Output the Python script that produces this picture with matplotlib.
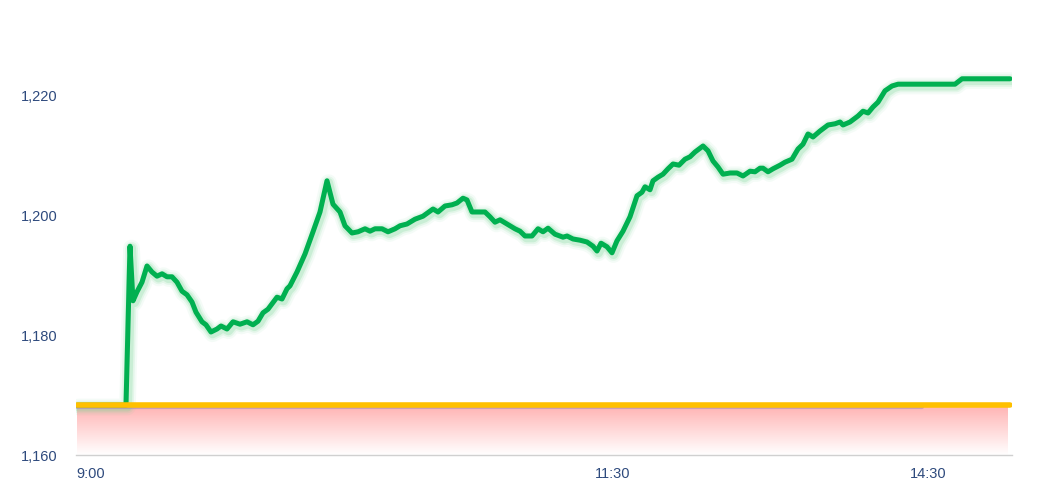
import numpy as np
import matplotlib
matplotlib.use("Agg")
import matplotlib.pyplot as plt

plt.rcParams['font.family'] = ['Liberation Sans', 'DejaVu Sans']

# time slots (position along the session) and index values
slot = [0, 49, 53, 56, 60, 65, 70, 75, 80, 85, 90, 95, 100, 105, 110, 115, 119,
        125, 129, 134, 140, 144, 150, 156, 163, 170, 176, 181, 186, 191, 200, 205,
        210, 213, 220, 228, 236, 243, 250, 256, 263, 268, 275, 281, 288, 293, 298,
        305, 311, 318, 323, 330, 338, 346, 356, 361, 368, 375, 380, 386, 390, 395,
        400, 408, 413, 418, 423, 430, 438, 443, 448, 455, 461, 466, 471, 478, 486,
        490, 496, 503, 510, 516, 520, 524, 530, 535, 540, 546, 553, 560, 565, 568,
        573, 576, 581, 586, 591, 596, 602, 608, 613, 618, 626, 631, 636, 641, 646,
        653, 660, 666, 673, 678, 683, 686, 691, 696, 703, 708, 715, 721, 726, 731,
        736, 743, 751, 758, 763, 766, 773, 781, 786, 791, 796, 801, 808, 815, 821,
        878, 885, 933]
value = [1168.3, 1168.3, 1194.8, 1185.7, 1187.2, 1188.8, 1191.5, 1190.5, 1189.8,
         1190.2, 1189.7, 1189.7, 1188.8, 1187.3, 1186.7, 1185.5, 1183.8, 1182.2,
         1181.7, 1180.5, 1181.0, 1181.5, 1181.0, 1182.2, 1181.8, 1182.2, 1181.7,
         1182.3, 1183.7, 1184.3, 1186.3, 1186.0, 1187.7, 1188.2, 1190.5, 1193.5,
         1197.2, 1200.5, 1205.7, 1201.8, 1200.5, 1198.2, 1197.0, 1197.2, 1197.7,
         1197.3, 1197.7, 1197.7, 1197.2, 1197.7, 1198.2, 1198.5, 1199.3, 1199.8,
         1201.0, 1200.5, 1201.5, 1201.7, 1202.0, 1202.8, 1202.5, 1200.5, 1200.5,
         1200.5, 1199.7, 1198.8, 1199.2, 1198.5, 1197.7, 1197.3, 1196.5, 1196.5,
         1197.7, 1197.2, 1197.8, 1196.8, 1196.3, 1196.5, 1196.0, 1195.8, 1195.5,
         1194.8, 1194.0, 1195.3, 1194.7, 1193.7, 1195.7, 1197.3, 1199.7, 1203.2,
         1203.8, 1204.7, 1204.2, 1205.7, 1206.3, 1206.8, 1207.7, 1208.5, 1208.3,
         1209.3, 1209.7, 1210.5, 1211.5, 1210.7, 1209.0, 1208.0, 1206.8, 1207.0,
         1207.0, 1206.5, 1207.3, 1207.2, 1207.8, 1207.8, 1207.2, 1207.7, 1208.3,
         1208.8, 1209.3, 1211.0, 1211.8, 1213.5, 1213.0, 1214.0, 1215.0, 1215.2,
         1215.5, 1215.0, 1215.5, 1216.5, 1217.3, 1217.0, 1218.0, 1218.8, 1220.7,
         1221.5, 1221.8, 1221.8, 1222.7, 1222.7]

base_value = 1168.3
base_end = 931
prev_end = 845
tick_slots = [14, 536, 851]
tick_labels = ["9:00", "11:30", "14:30"]
y_ticks = [1160, 1180, 1200, 1220]

fig = plt.figure(figsize=(10.64, 4.85), dpi=100)
ax = fig.add_axes([76 / 1064, 29 / 485, 936 / 1064, 456 / 485])
ax.set_xlim(-1, 935)
ax.set_ylim(1160, 1236)

# pink gradient under the base line
grad = np.linspace(0, 1, 256)
rgba = np.ones((256, 1, 4))
rgba[:, 0, 1] = 0.70 + 0.30 * grad
rgba[:, 0, 2] = 0.70 + 0.30 * grad
ax.imshow(rgba, extent=[0, base_end, 1160, base_value], aspect="auto",
          origin="upper", zorder=1, interpolation="bilinear")

# green line with soft glow
for w, a in [(12, 0.08), (9, 0.14), (6.5, 0.25)]:
    ax.plot(np.array(slot) + 1.5, np.array(value) - 0.3, color="#7fd89a", lw=w,
            alpha=a, solid_joinstyle="round", solid_capstyle="round", zorder=4)
ax.plot(slot, value, color="#00b050", lw=3.6, solid_joinstyle="round",
        solid_capstyle="round", zorder=5)

# base lines
ax.plot([0, prev_end], [base_value - 0.25, base_value - 0.25], color="#9a86b0",
        lw=3, alpha=0.5, solid_capstyle="round", zorder=6)
ax.plot([0, base_end + 2], [base_value, base_value], color="#ffc000", lw=4,
        solid_capstyle="round", zorder=7)

ax.set_yticks(y_ticks)
ax.set_yticklabels([f"{v:,}" for v in y_ticks])
ax.set_xticks(tick_slots)
ax.set_xticklabels(tick_labels)
ax.tick_params(length=0, colors="#2e4a7d", labelsize=10.5)
ax.tick_params(axis="y", pad=13)
ax.tick_params(axis="x", pad=8)
for s in ["top", "right", "left"]:
    ax.spines[s].set_visible(False)
ax.spines["bottom"].set_color("#d0d0d0")
ax.spines["bottom"].set_linewidth(1)

fig.savefig("out.png", dpi=100)
